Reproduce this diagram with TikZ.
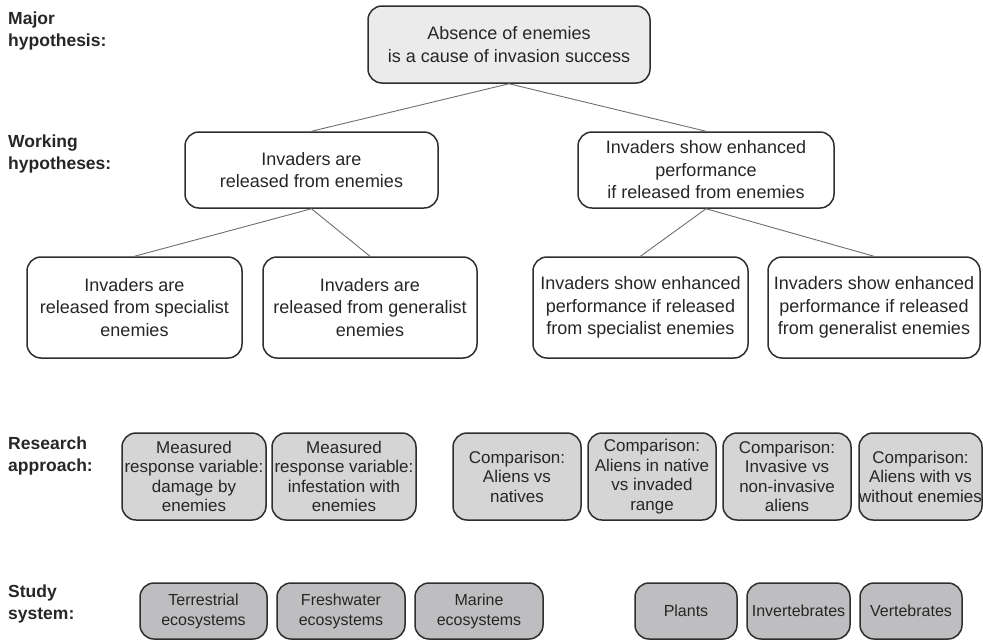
\documentclass[tikz,border=0pt]{standalone}
\usepackage{fontspec}
\setmainfont{Liberation Sans}
\definecolor{edge}{HTML}{2E2E2E}
\definecolor{wire}{HTML}{6E6E6E}
\definecolor{ink}{HTML}{262626}
\definecolor{topfill}{HTML}{EBEBEB}
\definecolor{approachfill}{HTML}{D5D5D5}
\definecolor{systemfill}{HTML}{BEBEC0}
\tikzset{
  hbox/.style={draw=edge, line width=1.5pt, rounded corners=14pt, align=center,
    inner sep=0pt, text=ink, font=\fontsize{18}{22.5}\selectfont},
  abox/.style={hbox, fill=approachfill, font=\fontsize{17}{19.5}\selectfont,
    minimum height=87pt},
  sbox/.style={hbox, fill=systemfill, font=\fontsize{16}{20}\selectfont,
    minimum height=56pt},
  rowlabel/.style={anchor=west, align=left, inner sep=0pt, text=ink,
    font=\bfseries\fontsize{17.5}{21.5}\selectfont},
  link/.style={draw=wire, line width=0.9pt}
}
\begin{document}
\begin{tikzpicture}[x=1pt, y=-1pt]
\useasboundingbox (0,0) rectangle (983,641);

% row labels
\node[rowlabel] (lmajor) at (8,31) {Major\\hypothesis:};
\node[rowlabel] (lwork) at (8,154) {Working\\hypotheses:};
\node[rowlabel] (lres) at (8,456) {Research\\approach:};
\node[rowlabel] (lstudy) at (8,604) {Study\\system:};

% major hypothesis
\node[hbox, fill=topfill, minimum width=282pt, minimum height=77pt] (top) at (509,44.5)
  {Absence of enemies\\is a cause of invasion success};

% working hypotheses
\node[hbox, minimum width=253pt, minimum height=76pt] (wl) at (311.5,170)
  {Invaders are\\released from enemies};
\node[hbox, minimum width=256pt, minimum height=76pt] (wr) at (706,170)
  {Invaders show enhanced\\performance\\if released from enemies};

% sub-hypotheses
\node[hbox, minimum width=215pt, minimum height=101pt] (ha) at (134.5,307.5)
  {Invaders are\\released from specialist\\enemies};
\node[hbox, minimum width=214pt, minimum height=101pt] (hb) at (370,307.5)
  {Invaders are\\released from generalist\\enemies};
\node[hbox, minimum width=215pt, minimum height=101pt] (hc) at (640.5,307.5)
  {Invaders show enhanced\\performance if released\\from specialist enemies};
\node[hbox, minimum width=212pt, minimum height=101pt] (hd) at (874,307.5)
  {Invaders show enhanced\\performance if released\\from generalist enemies};

% connectors
\draw[link] (top.south) -- (wl.north);
\draw[link] (top.south) -- (wr.north);
\draw[link] (wl.south) -- (ha.north);
\draw[link] (wl.south) -- (hb.north);
\draw[link] (wr.south) -- (hc.north);
\draw[link] (wr.south) -- (hd.north);

% research approach
\node[abox, minimum width=144pt] (r1) at (194,476.5)
  {Measured\\response variable:\\damage by\\enemies};
\node[abox, minimum width=144pt] (r2) at (344,476.5)
  {Measured\\response variable:\\infestation with\\enemies};
\node[abox, minimum width=128pt] (r3) at (517,476.5)
  {Comparison:\\Aliens vs\\natives};
\node[abox, minimum width=128pt] (r4) at (652,476.5)
  {Comparison:\\Aliens in native\\vs invaded\\range};
\node[abox, minimum width=128pt] (r5) at (787,476.5)
  {Comparison:\\Invasive vs\\non-invasive\\aliens};
\node[abox, minimum width=123pt] (r6) at (920.5,476.5)
  {Comparison:\\Aliens with vs\\without enemies};

% study system
\node[sbox, minimum width=127pt] (s1) at (203.5,611)
  {Terrestrial\\ecosystems};
\node[sbox, minimum width=128pt] (s2) at (341,611)
  {Freshwater\\ecosystems};
\node[sbox, minimum width=128pt] (s3) at (479,611)
  {Marine\\ecosystems};
\node[sbox, minimum width=102pt] (s4) at (686,611) {Plants};
\node[sbox, minimum width=103pt] (s5) at (798.5,611) {Invertebrates};
\node[sbox, minimum width=102pt] (s6) at (911,611) {Vertebrates};
\end{tikzpicture}
\end{document}
